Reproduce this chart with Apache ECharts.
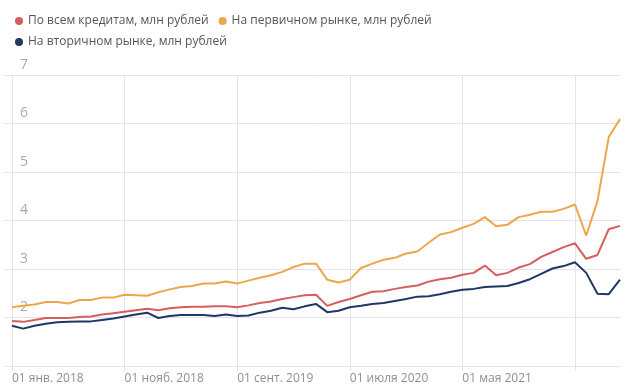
<!DOCTYPE html>
<html>
<head>
<meta charset="utf-8">
<script src="https://cdn.jsdelivr.net/npm/echarts@6/dist/echarts.min.js"></script>
<style>
html,body{margin:0;padding:0;background:#fff;}
#c{width:643px;height:390px;}
</style>
</head>
<body>
<div id="c"></div>
<script>
const categories = [
 "01 янв. 2018","01 февр. 2018","01 мар. 2018","01 апр. 2018","01 мая 2018","01 июня 2018","01 июля 2018","01 авг. 2018","01 сент. 2018","01 окт. 2018",
 "01 нояб. 2018","01 дек. 2018","01 янв. 2019","01 февр. 2019","01 мар. 2019","01 апр. 2019","01 мая 2019","01 июня 2019","01 июля 2019","01 авг. 2019",
 "01 сент. 2019","01 окт. 2019","01 нояб. 2019","01 дек. 2019","01 янв. 2020","01 февр. 2020","01 мар. 2020","01 апр. 2020","01 мая 2020","01 июня 2020",
 "01 июля 2020","01 авг. 2020","01 сент. 2020","01 окт. 2020","01 нояб. 2020","01 дек. 2020","01 янв. 2021","01 февр. 2021","01 мар. 2021","01 апр. 2021",
 "01 мая 2021","01 июня 2021","01 июля 2021","01 авг. 2021","01 сент. 2021","01 окт. 2021","01 нояб. 2021","01 дек. 2021","01 янв. 2022","01 февр. 2022",
 "01 мар. 2022","01 апр. 2022","01 мая 2022","01 июня 2022","01 июля 2022"
];
const seriesNames = ["По всем кредитам, млн рублей","На первичном рынке, млн рублей","На вторичном рынке, млн рублей"];
const allLoans = [1.93,1.91,1.95,1.99,1.99,1.99,2.01,2.02,2.06,2.09,2.12,2.15,2.18,2.15,2.19,2.21,2.22,2.22,2.23,2.23,2.21,2.25,2.30,2.33,2.38,2.42,2.46,2.47,2.24,2.32,2.38,2.46,2.53,2.54,2.59,2.63,2.66,2.74,2.79,2.82,2.88,2.92,3.07,2.87,2.92,3.03,3.10,3.25,3.35,3.45,3.53,3.21,3.29,3.82,3.89];
const primaryMarket = [2.21,2.24,2.27,2.32,2.32,2.29,2.36,2.36,2.41,2.41,2.47,2.46,2.45,2.52,2.58,2.63,2.65,2.70,2.70,2.74,2.70,2.76,2.82,2.87,2.94,3.04,3.11,3.11,2.78,2.72,2.78,3.02,3.11,3.19,3.23,3.32,3.36,3.54,3.71,3.76,3.85,3.93,4.07,3.88,3.91,4.07,4.12,4.18,4.18,4.24,4.33,3.69,4.40,5.72,6.09];
const secondaryMarket = [1.83,1.77,1.83,1.87,1.90,1.91,1.92,1.92,1.95,1.98,2.02,2.06,2.10,1.99,2.03,2.05,2.05,2.05,2.03,2.06,2.03,2.04,2.10,2.14,2.20,2.17,2.23,2.28,2.11,2.14,2.21,2.24,2.28,2.30,2.34,2.38,2.43,2.44,2.48,2.53,2.57,2.59,2.63,2.64,2.65,2.71,2.79,2.90,3.01,3.06,3.14,2.92,2.49,2.48,2.78];
const yMin = 1, yMax = 7, yStep = 1;
const labelStep = 10;

const colors = ['#d65f5e','#eda64b','#203766'];
const gridColor = '#e1e3f1';
const legendBase = {
  left: 10, icon: 'circle', itemWidth: 8, itemHeight: 8, itemGap: 10,
  textStyle: {fontSize: 12, color: '#555', fontFamily: 'Open Sans'}
};
const chart = echarts.init(document.getElementById('c'));
chart.setOption({
  animation: false,
  color: colors,
  textStyle: {fontFamily: 'Open Sans'},
  legend: [
    Object.assign({}, legendBase, {top: 10, data: seriesNames.slice(0, 2)}),
    Object.assign({}, legendBase, {top: 31, data: seriesNames.slice(2)})
  ],
  grid: [
    {left: 12, right: 23, top: 75, bottom: 24},
    {left: 5, right: 23, top: 75, bottom: 24}
  ],
  xAxis: [
    {
      type: 'category', gridIndex: 0, data: categories, boundaryGap: false,
      axisLine: {show: false},
      axisTick: {show: true, interval: labelStep - 1, length: 5, lineStyle: {color: gridColor}},
      splitLine: {show: true, interval: labelStep - 1, lineStyle: {color: gridColor}},
      axisLabel: {
        interval: labelStep - 1, align: 'left', margin: 7, fontSize: 12, color: '#8e8e98',
        formatter: (v, i) => (i >= categories.length - labelStep + 5 ? '' : v)
      }
    },
    {
      type: 'value', gridIndex: 1, min: 0, max: 1,
      axisLine: {show: true, lineStyle: {color: gridColor}},
      axisTick: {show: false}, axisLabel: {show: false}, splitLine: {show: false}
    }
  ],
  yAxis: [
    {type: 'value', gridIndex: 0, min: yMin, max: yMax, interval: yStep, show: false, splitLine: {show: false}},
    {
      type: 'value', gridIndex: 1, min: yMin, max: yMax, interval: yStep,
      axisLine: {show: false}, axisTick: {show: false},
      splitLine: {show: true, lineStyle: {color: gridColor}},
      axisLabel: {inside: true, margin: 15, showMinLabel: false, verticalAlign: 'bottom', padding: [0,0,3,0], fontSize: 14, color: '#a8a8b2'}
    }
  ],
  series: [
    {name: seriesNames[0], type: 'line', data: allLoans, showSymbol: false, lineStyle: {width: 2}, xAxisIndex: 0, yAxisIndex: 0},
    {name: seriesNames[1], type: 'line', data: primaryMarket, showSymbol: false, lineStyle: {width: 2}, xAxisIndex: 0, yAxisIndex: 0},
    {name: seriesNames[2], type: 'line', data: secondaryMarket, showSymbol: false, lineStyle: {width: 2}, xAxisIndex: 0, yAxisIndex: 0}
  ]
});
</script>
</body>
</html>
